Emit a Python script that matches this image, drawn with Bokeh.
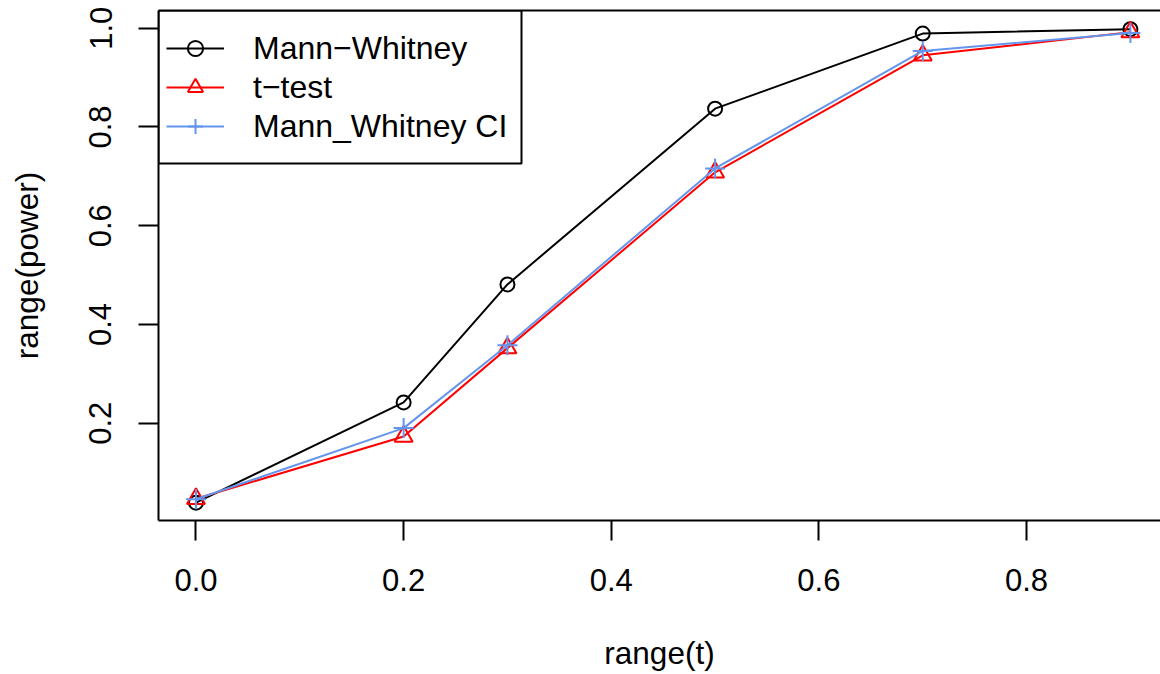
from bokeh.plotting import figure
from bokeh.models import (Range1d, LinearAxis, FixedTicker, Legend, LegendItem,
                          BoxAnnotation, Node, PrintfTickFormatter)
from bokeh.embed import file_html
from bokeh.resources import INLINE

# ---- data ----
t_values = [0.0, 0.2, 0.3, 0.5, 0.7, 0.9]
power_mann_whitney = [0.039, 0.242, 0.481, 0.837, 0.989, 0.998]
power_t_test = [0.047, 0.173, 0.352, 0.708, 0.945, 0.992]
power_mw_ci = [0.046, 0.190, 0.358, 0.716, 0.954, 0.990]
series_labels = ["Mann\u2212Whitney", "t\u2212test", "Mann_Whitney CI"]
x_ticks = [0.0, 0.2, 0.4, 0.6, 0.8]
y_ticks = [0.2, 0.4, 0.6, 0.8, 1.0]

FONT = "Liberation Sans"
TICK_FS = "31px"
LAB_FS = "31.5px"
LEG_FS = "32px"

p = figure(width=1160, height=674, output_backend="svg", toolbar_location=None,
           x_range=Range1d(-0.0361, 0.929), y_range=Range1d(0.0029, 1.0358),
           min_border_left=158, min_border_right=0, min_border_top=10,
           min_border_bottom=154, background_fill_color="white",
           border_fill_color="white", outline_line_color=None)
p.xgrid.visible = False
p.ygrid.visible = False

for ax in (p.xaxis[0], p.yaxis[0]):
    ax.axis_line_width = 2
    ax.axis_line_color = "black"
    ax.major_tick_line_width = 2
    ax.major_tick_in = 0
    ax.major_tick_out = 20
    ax.minor_tick_line_color = None
    ax.major_label_text_font = FONT
    ax.major_label_text_font_size = TICK_FS
    ax.major_label_text_color = "black"
    ax.axis_label_text_font = FONT
    ax.axis_label_text_font_size = LAB_FS
    ax.axis_label_text_font_style = "normal"
    ax.axis_label_text_color = "black"
    ax.formatter = PrintfTickFormatter(format="%.1f")

p.xaxis.ticker = FixedTicker(ticks=x_ticks)
p.yaxis.ticker = FixedTicker(ticks=y_ticks)
p.xaxis.axis_label = "range(t)"
p.yaxis.axis_label = "range(power)"
p.xaxis.major_label_standoff = 28
p.xaxis.axis_label_standoff = 41
p.yaxis.major_label_orientation = "vertical"
p.yaxis.major_label_standoff = 27
p.yaxis.axis_label_standoff = 42

top_axis = LinearAxis(ticker=FixedTicker(ticks=[]), axis_line_width=2,
                      axis_line_color="black", major_tick_out=0, major_tick_in=0,
                      minor_tick_out=0, minor_tick_in=0,
                      major_label_text_font_size="0px", axis_label=None)
p.add_layout(top_axis, "above")

l1 = p.line(t_values, power_mann_whitney, line_color="black", line_width=2)
s1 = p.scatter(t_values, power_mann_whitney, marker="circle", size=14,
               line_color="black", line_width=2, fill_color=None)
l2 = p.line(t_values, power_t_test, line_color="red", line_width=2)
s2 = p.scatter(t_values, power_t_test, marker="triangle", size=18,
               line_color="red", line_width=2, fill_color=None)
l3 = p.line(t_values, power_mw_ci, line_color="#6495ED", line_width=2)
s3 = p.scatter(t_values, power_mw_ci, marker="cross", size=20,
               line_color="#6495ED", line_width=2)

legend = Legend(items=[LegendItem(label=series_labels[0], renderers=[l1, s1]),
                       LegendItem(label=series_labels[1], renderers=[l2, s2]),
                       LegendItem(label=series_labels[2], renderers=[l3, s3])],
                location=(8, 375), padding=9, margin=0, spacing=1,
                glyph_width=58, glyph_height=38, label_height=38,
                label_standoff=29, label_text_font=FONT, label_text_font_size=LEG_FS,
                label_text_color="black", border_line_color=None,
                background_fill_alpha=0)
p.add_layout(legend)

box = BoxAnnotation(left=Node(target="frame", symbol="left"),
                    top=Node(target="frame", symbol="top"),
                    right=Node(target="frame", symbol="left", offset=363),
                    bottom=Node(target="frame", symbol="top", offset=153),
                    fill_color=None, fill_alpha=0, line_color="black",
                    line_width=2, line_alpha=1)
p.add_layout(box)

open("out.html", "w").write(file_html(p, INLINE))
